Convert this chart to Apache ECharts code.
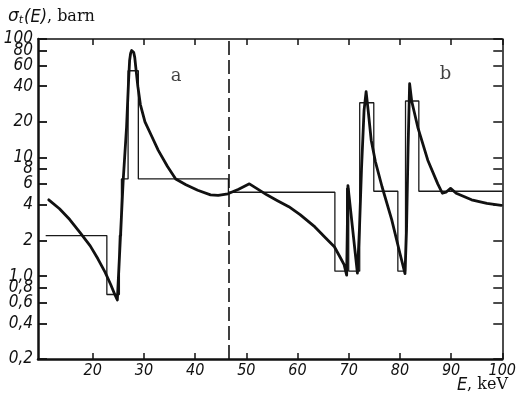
<!DOCTYPE html>
<html>
<head>
<meta charset="utf-8">
<script src="https://cdn.jsdelivr.net/npm/echarts@6/dist/echarts.min.js"></script>
<style>
  html, body { margin: 0; padding: 0; background: #ffffff; }
  #chart { width: 519px; height: 400px; }
</style>
</head>
<body>
<div id="chart"></div>
<script>
// Total cross-section curve: energy (keV) and sigma (barn)
const curveEnergy = [
  11.4, 13.5, 15.5, 17.6, 19.5, 21.0, 22.4, 23.5, 24.3, 24.8,
  25.95, 26.6, 27.0, 27.2, 27.4, 27.6, 27.8, 28.0, 28.2, 28.4,
  28.8, 29.3, 30.2, 31.4, 32.8, 34.6, 36.2, 38.2, 40.5, 43.0,
  44.5, 46.4, 48.5, 50.6, 52.0, 54.0, 56.0, 58.3, 60.5, 63.4,
  65.5, 67.2, 68.3, 69.1, 69.6, 69.85, 70.1, 71.7, 72.1, 72.5,
  73.0, 73.4, 73.8, 74.4, 75.2, 76.5, 78.4, 80.0, 81.0, 81.3,
  81.6, 81.9, 82.3, 83.5, 85.45, 87.4, 88.3, 89.0, 89.9, 91.0,
  94.0, 97.0, 99.8
];
const curveSigma = [
  4.4, 3.7, 3.0, 2.3, 1.8, 1.4, 1.08, 0.85, 0.7, 0.63,
  6.5, 18, 45, 66, 76, 80, 80, 77, 70, 58,
  40, 28, 20, 15.5, 11.5, 8.4, 6.6, 5.9, 5.3, 4.85,
  4.8, 4.95, 5.4, 6.0, 5.5, 4.85, 4.35, 3.85, 3.3, 2.6,
  2.1, 1.77, 1.45, 1.25, 1.02, 5.8, 5.6, 1.06, 2.5, 8,
  25, 36, 25, 14, 9.3, 5.7, 3.0, 1.56, 1.05, 2.5,
  12, 42, 30, 18, 9.5, 6.0, 5.0, 5.1, 5.5, 5.0,
  4.4, 4.1, 3.95
];

// Group-averaged cross-section: group boundaries (keV) and group values (barn)
const stepEdges = [10.8, 22.75, 25.2, 25.6, 26.9, 28.9, 46.5, 67.3, 69.6, 70.0, 72.15, 74.9, 79.6, 81.1, 83.7, 100];
const stepSigma = [2.2, 0.70, 2.2, 6.6, 54, 6.6, 5.1, 1.1, 5.5, 1.1, 29, 5.2, 1.1, 30, 5.2];

// Axis ticks and labels
const xTicks = [20, 30, 40, 50, 60, 70, 80, 90, 100];
const yTicks = [0.2, 0.4, 0.6, 0.8, 1, 2, 4, 6, 8, 10, 20, 40, 60, 80, 100];
const yTickLabels = ['0,2', '0,4', '0,6', '0,8', '1,0', '2', '4', '6', '8', '10', '20', '40', '60', '80', '100'];

// Boundary between the two energy regions and their panel letters
const boundaryEnergy = 46.5;
const panelLetters = ['a', 'b'];
const panelLetterAt = [[36.3, 48], [88.9, 50]];

const curveData = curveEnergy.map((e, i) => [e, curveSigma[i]]);
const stepData = stepSigma.map((v, i) => [stepEdges[i], v]);
stepData.push([stepEdges[stepEdges.length - 1], stepSigma[stepSigma.length - 1]]);

const tickFont = "'Liberation Sans Narrow', 'DejaVu Sans Condensed', 'Liberation Sans', sans-serif";
const ink = '#111111';

function yLabel(v) {
  const i = yTicks.findIndex(t => Math.abs(t - v) / t < 1e-6);
  return i >= 0 ? yTickLabels[i] : '';
}

// The densely packed top labels (60, 80, 100) are spread over separate
// label-only axes so the edge-label overlap rule never drops one of them.
const yLabelGroups = [
  yTicks.filter(v => v <= 40),
  yTicks.filter(v => v === 60 || v === 100),
  yTicks.filter(v => v === 80)
];

function labelOnlyAxis(values) {
  return {
    type: 'log', logBase: 10, position: 'left', min: 0.2, max: 100,
    axisLine: { show: false },
    axisTick: { show: false },
    axisLabel: {
      show: true, customValues: values, margin: 5, formatter: yLabel,
      showMinLabel: true, showMaxLabel: true, hideOverlap: false,
      fontFamily: tickFont, fontStyle: 'italic', fontSize: 17, color: ink
    },
    splitLine: { show: false }
  };
}

const chart = echarts.init(document.getElementById('chart'), null, { renderer: 'canvas' });
chart.setOption({
  animation: false,
  backgroundColor: '#ffffff',
  title: [
    {
      text: '{s|σ}{sub|t}{i|(E)}{r|, barn}',
      left: 3, top: 3,
      textStyle: {
        fontWeight: 'normal',
        rich: {
          s: { fontFamily: 'DejaVu Sans', fontStyle: 'italic', fontWeight: 'normal', fontSize: 17, color: ink },
          sub: { fontFamily: 'DejaVu Sans', fontStyle: 'italic', fontWeight: 'normal', fontSize: 11, color: ink, verticalAlign: 'bottom', padding: [6, 1, 0, 0] },
          i: { fontFamily: tickFont, fontStyle: 'italic', fontWeight: 'normal', fontSize: 18, color: ink },
          r: { fontFamily: 'DejaVu Serif', fontWeight: 'normal', fontSize: 16, color: ink }
        }
      }
    },
    {
      text: '{i|E}{r|, keV}',
      right: 6, bottom: 1,
      textStyle: {
        fontWeight: 'normal',
        rich: {
          i: { fontFamily: tickFont, fontStyle: 'italic', fontWeight: 'normal', fontSize: 18, color: ink },
          r: { fontFamily: 'DejaVu Serif', fontWeight: 'normal', fontSize: 16, color: ink }
        }
      }
    }
  ],
  grid: { left: 38, right: 8, top: 39, bottom: 41, containLabel: false },
  xAxis: [
    {
      type: 'value', position: 'bottom', min: 9.3, max: 100,
      axisLine: { show: true, onZero: false, lineStyle: { color: ink, width: 2.5 } },
      axisTick: { show: true, inside: true, length: 6, customValues: xTicks, lineStyle: { color: ink, width: 1.5 } },
      axisLabel: {
        show: true, customValues: xTicks, margin: 4, showMinLabel: true, showMaxLabel: true, hideOverlap: false,
        fontFamily: tickFont, fontStyle: 'italic', fontSize: 16, color: ink
      },
      splitLine: { show: false }
    },
    {
      type: 'value', position: 'top', min: 9.3, max: 100,
      axisLine: { show: true, onZero: false, lineStyle: { color: ink, width: 1.5 } },
      axisTick: { show: true, inside: true, length: 6, customValues: xTicks, lineStyle: { color: ink, width: 1.5 } },
      axisLabel: { show: false },
      splitLine: { show: false }
    }
  ],
  yAxis: [
    Object.assign(labelOnlyAxis(yLabelGroups[0]), {
      axisLine: { show: true, onZero: false, lineStyle: { color: ink, width: 2.5 } },
      axisTick: { show: true, inside: true, length: 9, customValues: yTicks, lineStyle: { color: ink, width: 1.8 } }
    }),
    {
      type: 'log', logBase: 10, position: 'right', min: 0.2, max: 100,
      axisLine: { show: true, onZero: false, lineStyle: { color: ink, width: 1.5 } },
      axisTick: { show: true, inside: true, length: 9, customValues: yTicks, lineStyle: { color: ink, width: 1.5 } },
      axisLabel: { show: false },
      splitLine: { show: false }
    },
    labelOnlyAxis(yLabelGroups[1]),
    labelOnlyAxis(yLabelGroups[2])
  ],
  series: [
    {
      name: 'group',
      type: 'line',
      step: 'end',
      data: stepData,
      showSymbol: false,
      lineStyle: { color: '#1a1a1a', width: 1.3 },
      z: 2,
      markLine: {
        silent: true,
        symbol: ['none', 'none'],
        label: { show: false },
        lineStyle: { color: ink, width: 1.6, type: [14, 5] },
        data: [{ xAxis: boundaryEnergy }]
      }
    },
    {
      name: 'total',
      type: 'line',
      data: curveData,
      showSymbol: false,
      lineStyle: { color: ink, width: 2.8, join: 'round', cap: 'round' },
      z: 3
    },
    {
      name: 'panels',
      type: 'scatter',
      symbolSize: 0,
      data: panelLetterAt.map((p, i) => ({ value: p, name: panelLetters[i] })),
      label: {
        show: true, position: 'inside', formatter: p => p.name,
        fontFamily: 'DejaVu Serif', fontSize: 18, color: ink
      },
      z: 4
    }
  ]
});
</script>
</body>
</html>
